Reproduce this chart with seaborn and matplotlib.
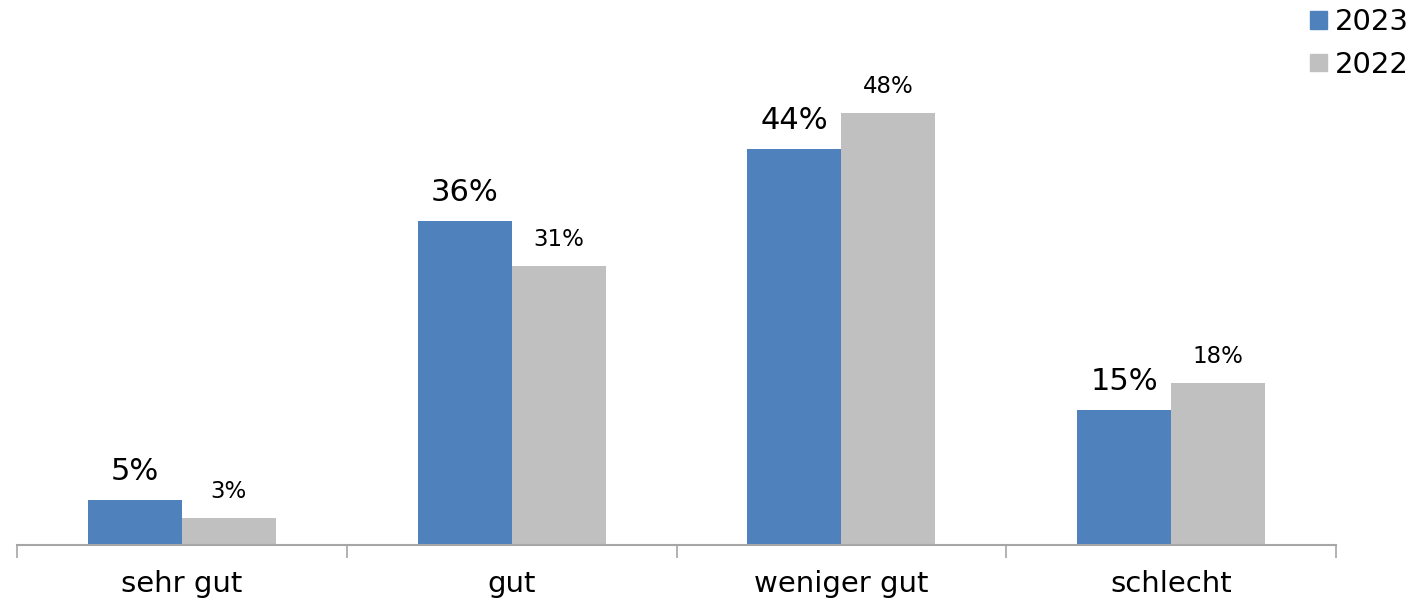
import numpy as np
import pandas as pd
import seaborn as sns
from matplotlib import pyplot as plt

# data
categories = ["sehr gut", "gut", "weniger gut", "schlecht"]
years = ["2023", "2022"]
values_2023 = [5, 36, 44, 15]
values_2022 = [3, 31, 48, 18]

df = pd.DataFrame({
    "category": categories * 2,
    "year": [years[0]] * len(categories) + [years[1]] * len(categories),
    "value": values_2023 + values_2022,
})

sns.set_theme(style="white")
plt.rcParams["font.family"] = ["DejaVu Sans"]

fig = plt.figure(figsize=(14.15, 6.03), dpi=100)
ax = fig.add_axes([17 / 1415, 58 / 603, 1319 / 1415, 540 / 603])

palette = {"2023": "#4F81BD", "2022": "#C0C0C0"}
sns.barplot(data=df, x="category", y="value", hue="year", hue_order=years,
            palette=palette, width=0.57, saturation=1, linewidth=0,
            ax=ax, legend=False)

# value labels, 2023 bigger than 2022
for cont, size, pad in zip(ax.containers, [22, 16.5], [10, 11]):
    ax.bar_label(cont, labels=[f"{v:.0f}%" for v in cont.datavalues],
                 padding=pad, fontsize=size, color="black")

ax.set_ylim(0, 60)
ax.set_xlim(-0.5, len(categories) - 0.5)
ax.set_yticks([])
ax.set_xlabel("")
ax.set_ylabel("")
for side in ["top", "right", "left"]:
    ax.spines[side].set_visible(False)
ax.spines["bottom"].set_color("#A6A6A6")
ax.spines["bottom"].set_linewidth(1.5)

# tick marks between categories, none at labels
ax.set_xticks(np.arange(-0.5, len(categories)), minor=True)
ax.tick_params(axis="x", which="minor", bottom=True, length=9, width=1.2,
               color="#A6A6A6", direction="out")
ax.tick_params(axis="x", which="major", length=0, labelsize=21, pad=18,
               labelcolor="black")

handles = [plt.Rectangle((0, 0), 1, 1, color=palette[y]) for y in years]
fig.legend(handles, years, loc="upper right", bbox_to_anchor=(1.0145, 1.03),
           frameon=False, fontsize=21, handlelength=0.55, handleheight=0.55,
           handletextpad=0.3, labelspacing=0.5, labelcolor="black")

fig.savefig("out.png", dpi=100)
